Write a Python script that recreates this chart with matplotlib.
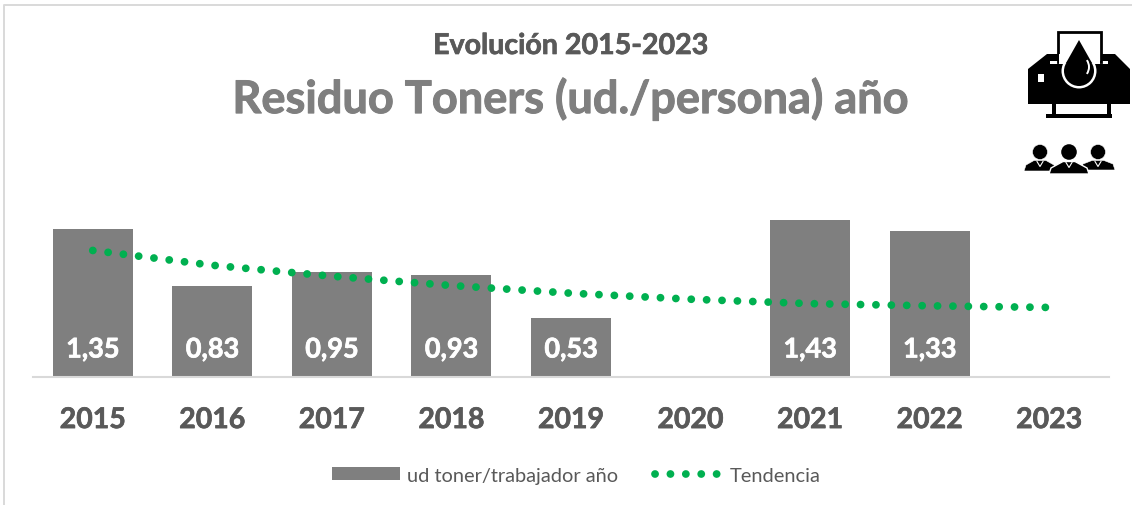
"""Residuo Toners chart, bars per year with a dotted trend line."""

from __future__ import annotations

import matplotlib

matplotlib.use("Agg")

import matplotlib.patheffects as pe
import matplotlib.pyplot as plt
from matplotlib.lines import Line2D
from matplotlib.patches import Arc, Circle, Patch, Polygon, Rectangle


YEARS = ["2015", "2016", "2017", "2018", "2019", "2020", "2021", "2022", "2023"]
TONER_VALUES = [1.35, 0.83, 0.95, 0.93, 0.53, None, 1.43, 1.33, None]
TREND_VALUES = [1.15, 1.015, 0.915, 0.83, 0.76, 0.705, 0.665, 0.645, 0.63]

WIDTH_PX = 1132
HEIGHT_PX = 506
GREY = "#7f7f7f"
TEXT_GREY = "#595959"
GREEN = "#00b050"
FRAME = "#d9d9d9"
FONT = "Lato"
DOTS = (0, (0.01, 1.97))


def heavier(text, color, width=0.5) -> None:
    """Thicken a bold label a little, Lato bold is lighter than the original font."""

    text.set_path_effects([pe.withStroke(linewidth=width, foreground=color)])


def draw_printer(ax) -> None:
    """Printer and ink drop icon, in pixel coordinates."""

    black = "black"
    ax.add_patch(
        Polygon(
            [(1028, 70), (1047, 55), (1115, 55), (1130, 70), (1130, 105), (1028, 105)],
            closed=True, facecolor=black, edgecolor="none",
        )
    )
    ax.add_patch(Rectangle((1050, 62), 58, 3, facecolor="white", edgecolor="none"))
    ax.add_patch(Rectangle((1058, 33), 43, 30, facecolor="white", edgecolor=black, linewidth=2))
    ax.add_patch(Rectangle((1059, 55), 41, 10, facecolor="white", edgecolor="none"))
    ax.add_patch(Circle((1079, 72), 17.5, facecolor="white", edgecolor="none"))
    ax.add_patch(Circle((1079, 72), 15, facecolor=black, edgecolor="none"))
    ax.add_patch(Polygon([(1079, 41), (1066, 64), (1092, 64)], closed=True, facecolor=black))
    ax.add_patch(Arc((1077, 68), 24, 24, theta1=-35, theta2=35, color="white", linewidth=1.4))
    ax.add_patch(Rectangle((1038, 75), 6, 8, facecolor="white", edgecolor="none"))
    ax.add_patch(Rectangle((1052, 105), 4, 10, facecolor=black, edgecolor="none"))
    ax.add_patch(Rectangle((1107, 105), 4, 10, facecolor=black, edgecolor="none"))
    ax.add_patch(Rectangle((1046, 115), 66, 4, facecolor=black, edgecolor="none"))


def draw_person(ax, cx, head_y, head_r, half, bottom, outline) -> None:
    """One head and shoulders figure with a small white collar."""

    top = head_y + head_r + 1
    ax.add_patch(
        Polygon(
            [(cx - half, bottom), (cx - half + 2, bottom - 6), (cx - 6, top), (cx + 6, top),
             (cx + half - 2, bottom - 6), (cx + half, bottom)],
            closed=True, facecolor="black", edgecolor="white", linewidth=outline,
        )
    )
    ax.add_patch(Circle((cx, head_y), head_r, facecolor="black", edgecolor="white", linewidth=outline))
    ax.plot([cx - 3, cx, cx + 3], [top + 1, top + 6, top + 1], color="white", linewidth=0.8)


def main() -> None:
    plt.rcParams["font.family"] = [FONT, "DejaVu Sans"]
    fig = plt.figure(figsize=(WIDTH_PX / 100, HEIGHT_PX / 100), dpi=100)

    # overlay in pixel coordinates for the frame and the icons
    overlay = fig.add_axes([0, 0, 1, 1])
    overlay.set_xlim(0, WIDTH_PX)
    overlay.set_ylim(HEIGHT_PX, 0)
    overlay.axis("off")
    overlay.plot([4, 4, WIDTH_PX], [HEIGHT_PX, 6, 6], color=FRAME, linewidth=1.4)
    draw_printer(overlay)
    draw_person(overlay, 1040, 153, 7.5, 16, 172, 0.4)
    draw_person(overlay, 1098, 153, 7.5, 17, 171, 0.4)
    draw_person(overlay, 1069, 153, 8.5, 20, 175, 1.0)

    left, right, top, base = 33, 1109, 200, 377.5
    ax = fig.add_axes(
        [left / WIDTH_PX, 1 - base / HEIGHT_PX, (right - left) / WIDTH_PX, (base - top) / HEIGHT_PX]
    )
    ax.patch.set_alpha(0)
    positions = list(range(len(YEARS)))
    heights = [0 if value is None else value for value in TONER_VALUES]
    bars = ax.bar(positions, heights, width=0.669, color=GREY)
    ax.plot(
        positions, TREND_VALUES, color=GREEN, linewidth=5.6,
        linestyle=DOTS, dash_capstyle="round",
    )

    for bar, value in zip(bars, TONER_VALUES):
        if value is None:
            continue
        label = ax.annotate(
            f"{value:.2f}".replace(".", ","),
            (bar.get_x() + bar.get_width() / 2, 0),
            xytext=(0, 27), textcoords="offset pixels",
            ha="center", va="center", color="white", fontsize=19.5, fontweight="bold",
        )
        heavier(label, "white")

    ax.set_xlim(-0.5, 8.5)
    ax.set_ylim(0, 177.5 / 109.6)
    ax.set_yticks([])
    ax.set_xticks(positions, YEARS, fontsize=20.5, fontweight="bold", color=TEXT_GREY)
    ax.tick_params(axis="x", length=0, pad=22)
    for tick_label in ax.get_xticklabels():
        heavier(tick_label, TEXT_GREY)
    for side in ["top", "left", "right"]:
        ax.spines[side].set_visible(False)
    ax.spines["bottom"].set_color(FRAME)
    ax.spines["bottom"].set_linewidth(1.5)

    subtitle = fig.text(571 / WIDTH_PX, 1 - 47 / HEIGHT_PX, "Evolución 2015-2023", ha="center",
                        va="center", fontsize=20.6, fontweight="bold", color=TEXT_GREY)
    heavier(subtitle, TEXT_GREY)
    title = fig.text(570.5 / WIDTH_PX, 1 - 100 / HEIGHT_PX, "Residuo Toners (ud./persona) año",
                     ha="center", va="center", fontsize=32.5, fontweight="bold", color=GREY)
    heavier(title, GREY, 0.7)

    handles = [
        Patch(facecolor=GREY, label="ud toner/trabajador año"),
        Line2D([0], [0], color=GREEN, linewidth=5.6, linestyle=DOTS,
               dash_capstyle="round", label="Tendencia"),
    ]
    fig.legend(
        handles=handles, loc="center", bbox_to_anchor=(576.5 / WIDTH_PX, 1 - 476.5 / HEIGHT_PX),
        ncol=2, frameon=False, fontsize=14.4, labelcolor=TEXT_GREY, handlelength=3.4,
        handleheight=0.62, handletextpad=0.35, columnspacing=1.85,
    )

    fig.savefig("out.png", dpi=100)
    plt.close(fig)


if __name__ == "__main__":
    main()
